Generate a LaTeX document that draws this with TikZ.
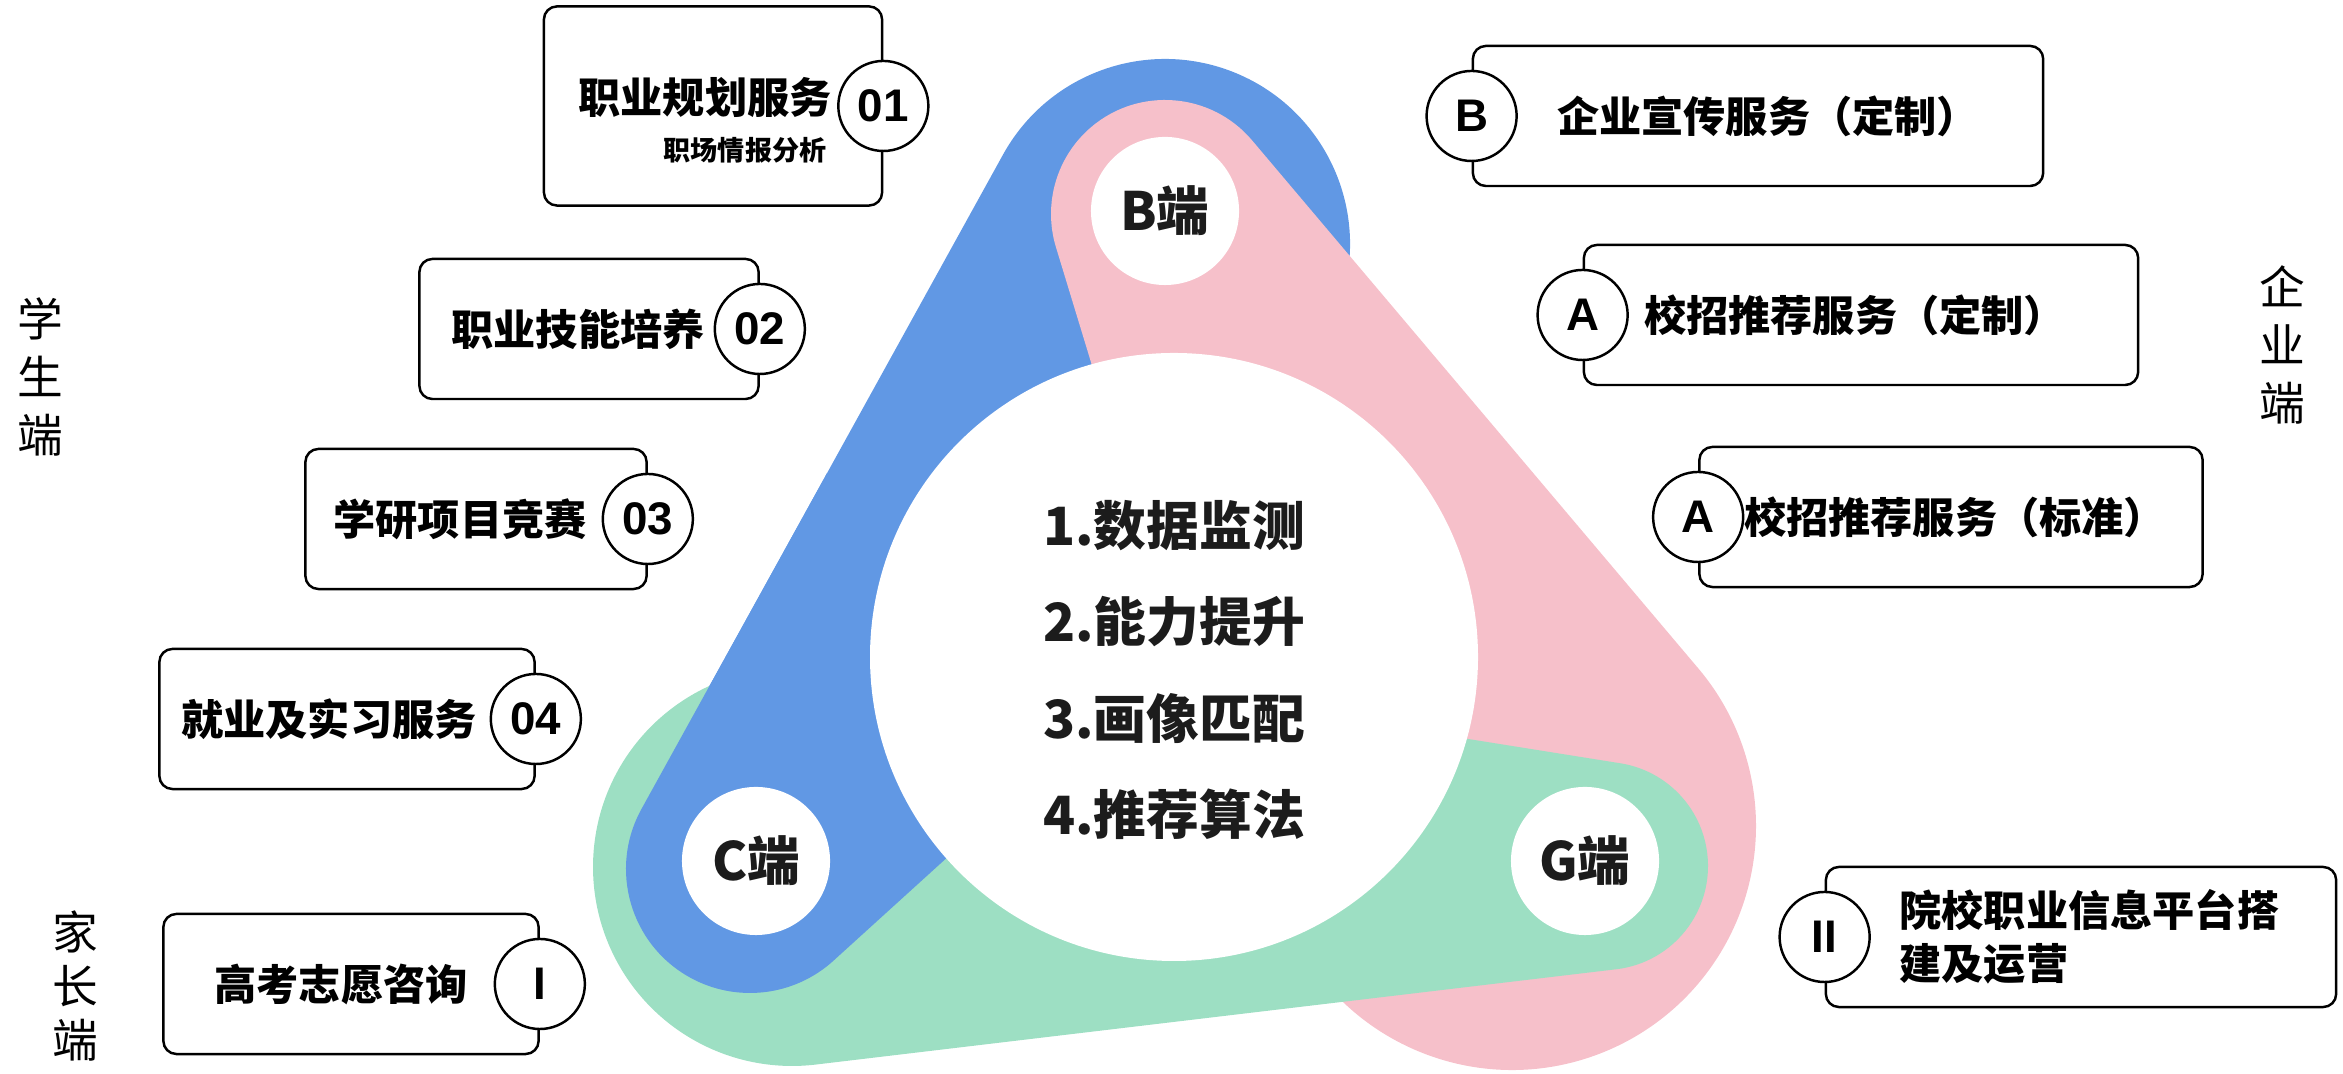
\documentclass[tikz,border=0pt]{standalone}
\usepackage{fontspec}
\newfontfamily\cjk{Noto Sans CJK SC}
\newfontfamily\lat{Liberation Sans}
\usetikzlibrary{calc}
\definecolor{blueC}{RGB}{97,152,228}
\definecolor{pinkC}{RGB}{246,192,202}
\definecolor{greenC}{RGB}{157,223,195}
\definecolor{inkC}{RGB}{28,28,28}

\begin{document}
\begin{tikzpicture}[x=0.01cm,y=0.01cm,
	card/.style={draw,line width=0.7pt,rounded corners=0.13cm,minimum height=1.4cm},
	num/.style={draw,circle,fill=white,line width=0.7pt,minimum size=0.9cm,inner sep=0pt,font=\lat\bfseries\fontsize{13}{13}\selectfont},
	cardtext/.style={font=\cjk\bfseries\fontsize{12}{14}\selectfont},
	hub/.style={circle,fill=white,minimum size=1.48cm,inner sep=0pt,text=inkC,font=\cjk\bfseries\fontsize{15}{15}\selectfont},
	side/.style={align=center,font=\cjk\fontsize{13}{16.5}\selectfont}]
	\useasboundingbox (0,0) rectangle (2343,1074);

	% three drops: blue B-C, pink B-G, green C-G
	\fill[blueC] (1165,830) ++(-19.86:185) arc[start angle=-19.86,end angle=151.08,radius=185]
		-- ($(750,205)+(151.08:124)$) arc[start angle=151.08,end angle=312.23,radius=124]
		-- ($(1200,500)+(312.23:40)$) arc[start angle=312.23,end angle=340.14,radius=40] -- cycle;
	\fill[pinkC] (1165,860) ++(40.20:114) arc[start angle=40.20,end angle=196.93,radius=114]
		-- ($(1230,420)+(196.93:48)$) arc[start angle=196.93,end angle=202.22,radius=48]
		-- ($(1512,248)+(202.22:244)$) arc[start angle=202.22,end angle=400.20,radius=244] -- cycle;
	\fill[greenC] (792,207) ++(86.61:199) arc[start angle=86.61,end angle=276.79,radius=199]
		-- ($(1604,208)+(276.79:104)$) arc[start angle=276.79,end angle=440.92,radius=104]
		-- ($(1150,320)+(80.92:65)$) arc[start angle=80.92,end angle=86.61,radius=65] -- cycle;
	% blue lies over green at C
	\begin{scope}
		\clip (0,0) rectangle (1000,600);
		\fill[blueC] (1165,830) ++(-19.86:185) arc[start angle=-19.86,end angle=151.08,radius=185]
			-- ($(750,205)+(151.08:124)$) arc[start angle=151.08,end angle=312.23,radius=124]
			-- ($(1200,500)+(312.23:40)$) arc[start angle=312.23,end angle=340.14,radius=40] -- cycle;
	\end{scope}

	\fill[white] (1174,417) circle (304);
	\node[text=inkC,align=center,font=\cjk\bfseries\fontsize{15}{27.3}\selectfont] (core) at (1174,404)
		{1.数据监测\\2.能力提升\\3.画像匹配\\4.推荐算法};
	\node[hub] (hubB) at (1165,863) {B端};
	\node[hub] (hubC) at (756,213) {C端};
	\node[hub] (hubG) at (1585,213) {G端};

	% student side
	\node[card,minimum width=3.38cm,minimum height=1.99cm] (plan) at (713,968) {};
	\node[num] (n01) at (plan.east) {01};
	\node[cardtext] (planT) at (705,976) {职业规划服务};
	\node[font=\cjk\bfseries\fontsize{7.7}{9}\selectfont] (planS) at (745,924) {职场情报分析};

	\node[card,minimum width=3.39cm] (skill) at (589,745) {};
	\node[num] (n02) at (skill.east) {02};
	\node[cardtext] (skillT) at (578,745) {职业技能培养};

	\node[card,minimum width=3.41cm] (study) at (476,555) {};
	\node[num] (n03) at (study.east) {03};
	\node[cardtext] (studyT) at (460,555) {学研项目竞赛};

	\node[card,minimum width=3.75cm] (job) at (347,355) {};
	\node[num] (n04) at (job.east) {04};
	\node[cardtext] (jobT) at (329,355) {就业及实习服务};

	% parent side
	\node[card,minimum width=3.75cm] (exam) at (351,90) {};
	\node[num] (nI) at (exam.east) {I};
	\node[cardtext] (examT) at (341,90) {高考志愿咨询};

	% company side
	\node[card,minimum width=5.7cm] (promo) at (1758,958) {};
	\node[num] (nB) at (promo.west) {B};
	\node[cardtext] (promoT) at (1768,958) {企业宣传服务（定制）};

	\node[card,minimum width=5.54cm] (hireA) at (1861,759) {};
	\node[num] (nA1) at (hireA.west) {A};
	\node[cardtext] (hireAT) at (1855,759) {校招推荐服务（定制）};

	\node[card,minimum width=5.03cm] (hireB) at (1951,557) {};
	\node[num] (nA2) at (hireB.west) {A};
	\node[cardtext] (hireBT) at (1955,557) {校招推荐服务（标准）};

	% school side
	\node[card,minimum width=5.1cm] (campus) at (2081,137) {};
	\node[num] (nII) at (campus.west) {II};
	\node[cardtext,anchor=west,align=left,font=\cjk\bfseries\fontsize{12}{15}\selectfont] (campusT) at (1887,137)
		{院校职业信息平台搭\\建及运营};

	\node[side] (stu) at (40,697) {学\\生\\端};
	\node[side] (com) at (2282,729) {企\\业\\端};
	\node[side,font=\cjk\fontsize{13}{15.3}\selectfont] (par) at (75,88) {家\\长\\端};
\end{tikzpicture}
\end{document}
